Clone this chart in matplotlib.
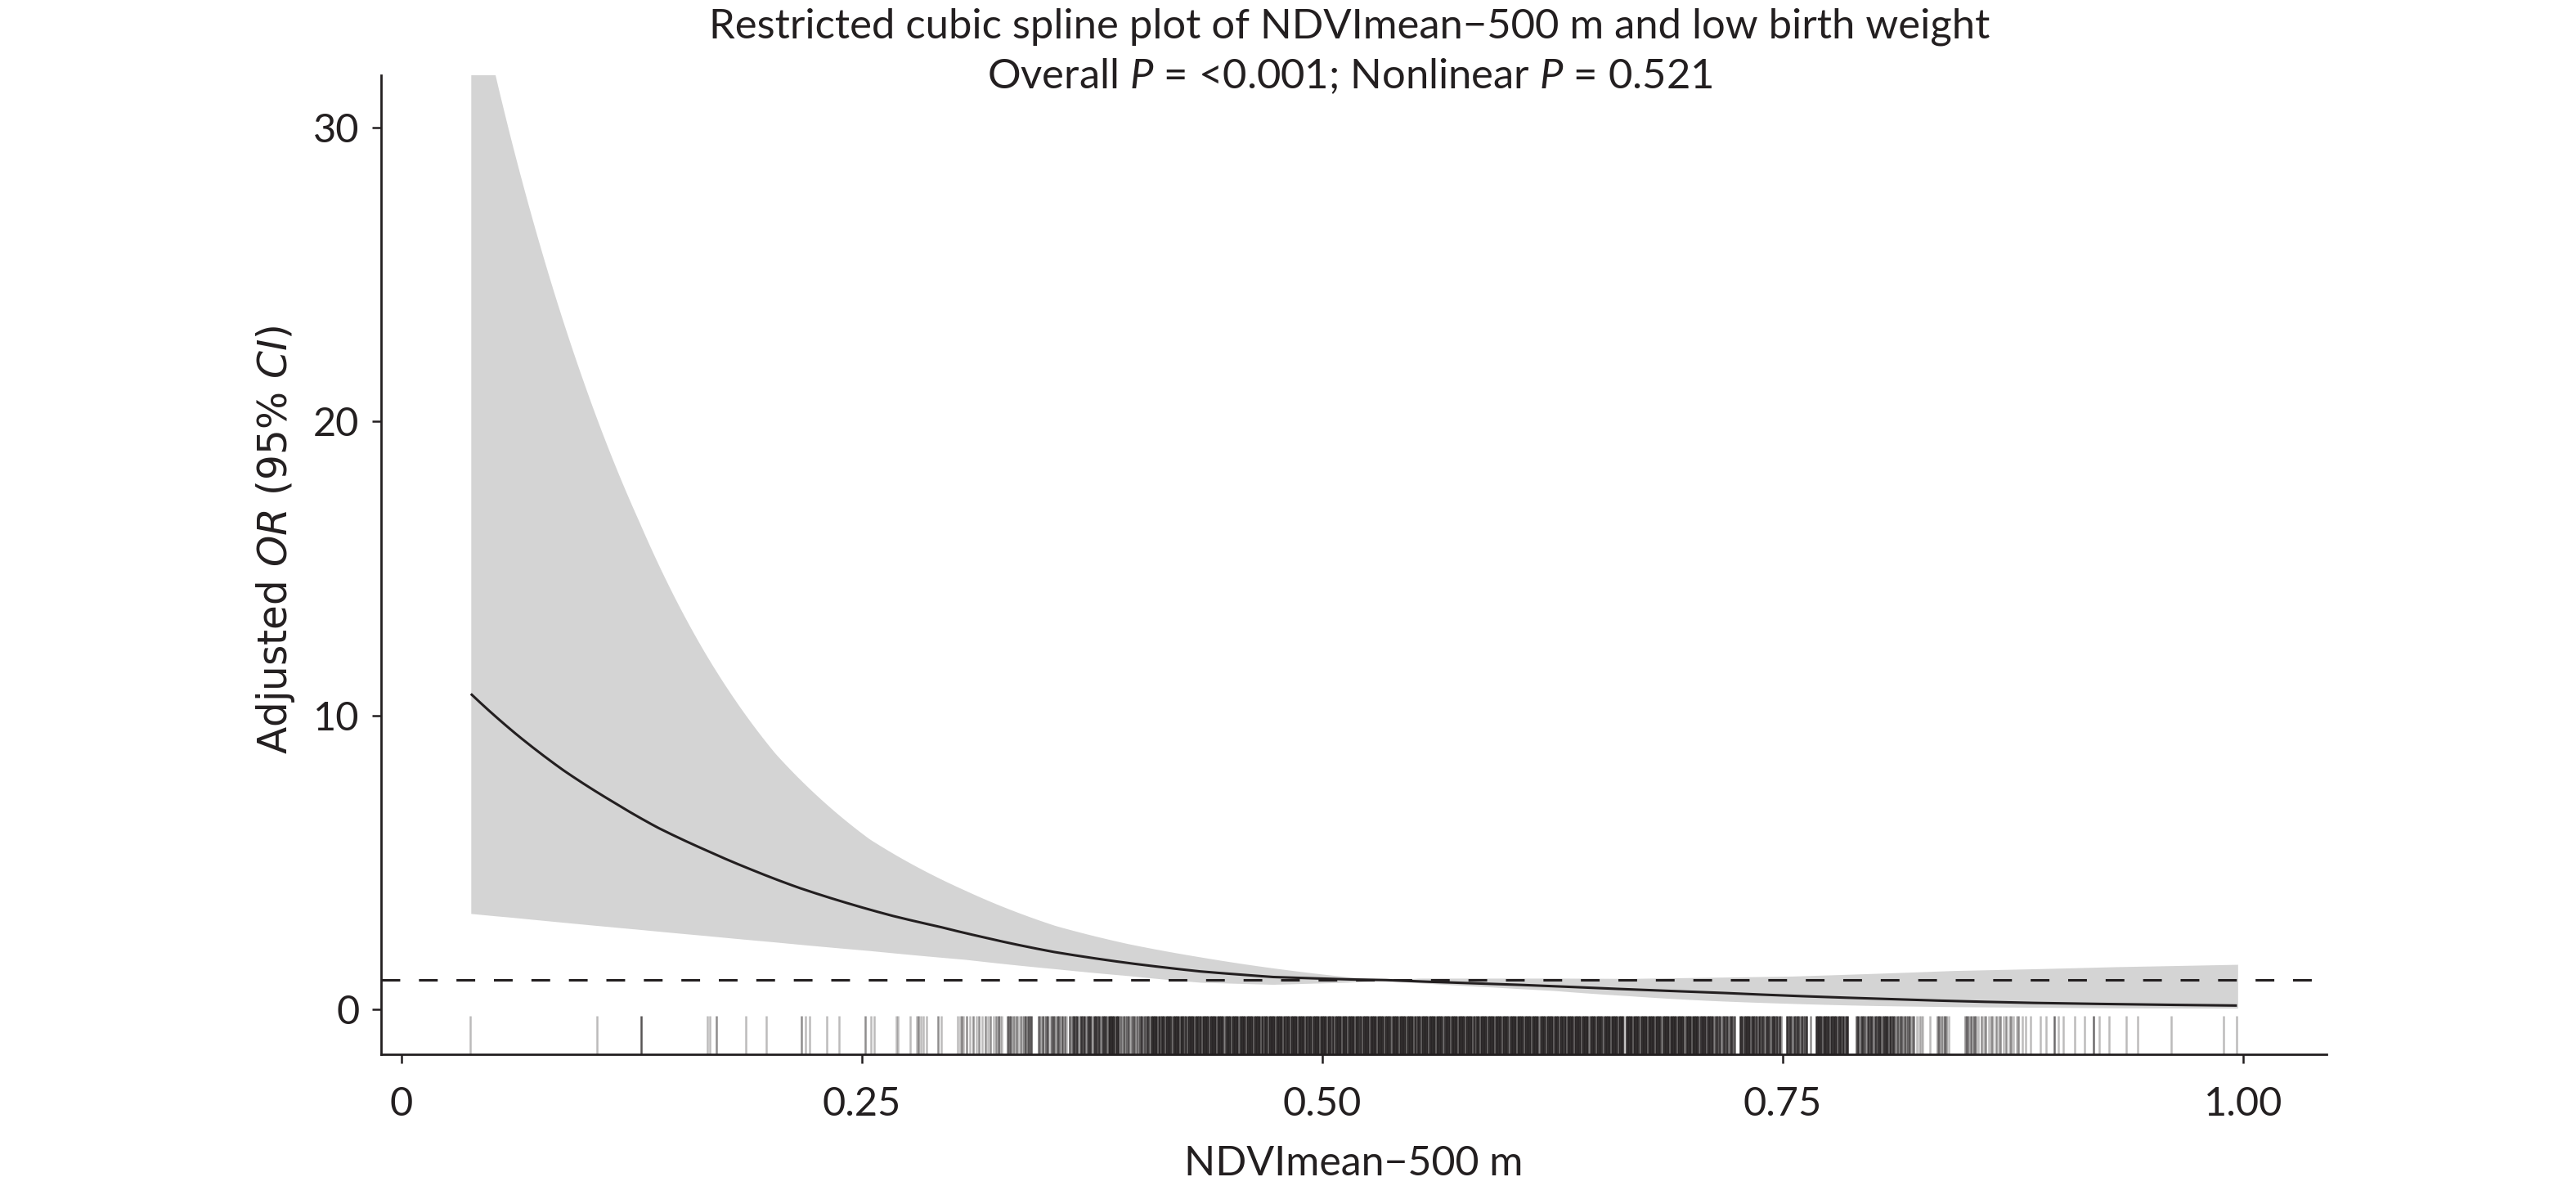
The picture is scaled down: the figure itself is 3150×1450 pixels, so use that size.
import numpy as np
import matplotlib
matplotlib.use("Agg")
import matplotlib.pyplot as plt

# ---------------- data ----------------
title_line1 = "Restricted cubic spline plot of NDVImean\u2212500 m and low birth weight"
title_line2 = r"Overall $P$ = <0.001; Nonlinear $P$ = 0.521"
x_label = "NDVImean\u2212500 m"
y_label = r"Adjusted $\mathit{OR}$ (95% $\mathit{CI}$)"

x_ticks = [0, 0.25, 0.50, 0.75, 1.00]
x_tick_labels = ["0", "0.25", "0.50", "0.75", "1.00"]
y_ticks = [0, 10, 20, 30]
y_tick_labels = ["0", "10", "20", "30"]
ref_or = 1.0

# fitted odds ratio
or_x = [0.0377, 0.0627, 0.0882, 0.1137, 0.1392, 0.1647, 0.1901, 0.2156, 0.2412,
        0.2667, 0.2921, 0.3148, 0.3545, 0.3941, 0.4338, 0.4734, 0.5131, 0.5329,
        0.5527, 0.5924, 0.6257, 0.7104, 0.7982, 0.8860, 0.9966]
or_y = [10.73, 9.34, 8.12, 7.10, 6.18, 5.43, 4.75, 4.14, 3.63,
        3.18, 2.81, 2.47, 1.95, 1.58, 1.29, 1.10, 1.02, 1.00,
        0.95, 0.87, 0.79, 0.58, 0.37, 0.22, 0.13]

# 95% confidence band
ci_x = [0.0377, 0.051, 0.060, 0.078, 0.098, 0.129, 0.165, 0.203, 0.254, 0.306,
        0.355, 0.394, 0.434, 0.473, 0.513, 0.533, 0.553, 0.592, 0.626, 0.667,
        0.711, 0.755, 0.799, 0.843, 0.887, 0.931, 0.997]
ci_upper = [36.0, 31.75, 29.45, 25.37, 21.49, 16.59, 12.10, 8.70, 5.80, 4.05,
            2.85, 2.24, 1.78, 1.41, 1.11, 1.00, 1.06, 1.06, 1.06, 1.05,
            1.09, 1.13, 1.22, 1.32, 1.38, 1.45, 1.53]
ci_lower = [3.26, 3.18, 3.13, 3.02, 2.90, 2.72, 2.51, 2.29, 2.00, 1.70,
            1.38, 1.15, 0.92, 0.85, 0.92, 0.99, 0.90, 0.76, 0.64, 0.46,
            0.30, 0.20, 0.13, 0.09, 0.07, 0.05, 0.04]

# rug: sparse low tail (value, number of overlapping observations)
rug_left = [0.0375, 0.1062, 0.1301, 0.1663, 0.1674, 0.1710, 0.1869, 0.1983, 0.2171, 0.2193,
            0.2215, 0.2310, 0.2376, 0.2518, 0.2547, 0.2569, 0.2687, 0.2695, 0.2762, 0.2796,
            0.2806, 0.2818, 0.2832, 0.2853, 0.2915, 0.2929, 0.3020, 0.3031, 0.3042, 0.3053,
            0.3069, 0.3086, 0.3104, 0.3120, 0.3135, 0.3153, 0.3171, 0.3186, 0.3197, 0.3215,
            0.3230]
rug_left_n = [1, 1, 4, 1, 1, 2, 1, 1, 2, 1,
              1, 1, 1, 2, 1, 1, 1, 1, 1, 1,
              2, 1, 1, 1, 2, 1, 1, 1, 2, 1,
              2, 1, 2, 1, 2, 1, 2, 1, 2, 1,
              2]

# rug: dense band A (thousandths)
rug_a = [324, 325, 326, 329, 330, 331, 332, 333, 334, 335,
         336, 337, 338, 339, 340, 341, 342, 346, 347, 348,
         349, 350, 351, 352, 353, 354, 355, 356, 357, 358,
         359, 360, 361, 363, 364, 365, 366, 367, 368, 369,
         370, 371, 372, 373, 374, 375, 376, 377, 378, 379,
         380, 381, 382, 383, 384, 385, 386, 387, 388, 389,
         390, 391, 392, 393, 394, 395, 396, 397, 398, 399,
         400, 401, 402, 403, 404, 405, 406]
rug_a_n = [3, 1, 1, 3, 3, 3, 2, 1, 2, 1,
           2, 1, 2, 4, 4, 3, 4, 3, 2, 4,
           1, 3, 4, 1, 3, 4, 2, 4, 3, 1,
           4, 3, 1, 4, 3, 7, 4, 7, 2, 7,
           4, 7, 3, 7, 7, 2, 7, 7, 4, 7,
           3, 7, 7, 4, 10, 10, 10, 10, 10, 10,
           2, 3, 4, 2, 3, 4, 2, 3, 4, 3,
           2, 4, 7, 4, 3, 7, 4]

# rug: solid core band B (thousandths)
rug_b = [407, 408, 409, 410, 411, 412, 413, 414, 415, 416,
         417, 418, 419, 420, 421, 422, 423, 424, 425, 426,
         427, 428, 429, 430, 431, 432, 433, 434, 435, 436,
         437, 438, 439, 440, 441, 442, 443, 444, 445, 446,
         447, 448, 449, 450, 451, 452, 453, 454, 455, 456,
         457, 458, 459, 460, 461, 462, 463, 464, 465, 466,
         467, 468, 469, 470, 471, 472, 473, 474, 475, 476,
         477, 478, 479, 480, 481, 482, 483, 484, 485, 486,
         487, 488, 489, 490, 491, 492, 493, 494, 495, 496,
         497, 498, 499, 500, 501, 502, 503, 504, 505, 506,
         507, 508, 509, 510, 511, 512, 513, 514, 515, 516,
         517, 518, 519, 520, 521, 522, 523, 524, 525, 526,
         527, 528, 529, 530, 531, 532, 533, 534, 535, 536,
         537, 538, 539, 540, 541, 542, 543, 544, 545, 546,
         547, 548, 549, 550, 551, 552, 553, 554, 555, 556,
         557, 558, 559, 560, 561, 562, 563, 564, 565, 566,
         567, 568, 569, 570, 571, 572, 573, 574, 575, 576,
         577, 578, 579, 580, 581, 582, 583, 584, 585, 586,
         587, 588, 589, 590, 591, 592, 593, 594, 595, 596,
         597, 598, 599, 600, 601, 602, 603, 604, 605, 606,
         607, 608, 609, 610, 611, 612, 613, 614, 615, 616,
         617, 618, 619, 620, 621, 622, 623, 624, 625, 626,
         627, 628, 629, 630, 631, 632, 633, 634, 635, 636,
         637, 638, 639, 640, 641, 642, 643, 644, 645, 646,
         647, 648, 649, 650, 651, 652, 653, 654, 655, 656,
         657, 658, 659, 660, 661, 662, 663, 664, 665, 666,
         667, 668, 669, 670, 671, 672, 673, 674, 675, 676,
         677, 678, 679, 680, 681, 682, 683, 684, 685, 686,
         687, 688, 689, 690, 691, 692, 693, 694, 695, 696,
         697, 698, 699, 700, 701, 702, 703, 704, 705]
rug_b_n = [10, 10, 10, 10, 10, 4, 10, 10, 10, 10,
           10, 6, 10, 10, 10, 10, 10, 10, 4, 10,
           10, 10, 10, 10, 10, 10, 6, 10, 10, 10,
           10, 10, 10, 10, 10, 10, 10, 10, 10, 10,
           4, 10, 10, 10, 10, 10, 10, 10, 6, 10,
           10, 10, 10, 10, 10, 10, 10, 10, 10, 10,
           10, 4, 10, 10, 10, 10, 10, 10, 10, 10,
           10, 10, 10, 6, 10, 10, 10, 10, 10, 10,
           10, 10, 10, 10, 10, 6, 10, 10, 10, 10,
           10, 10, 10, 10, 10, 10, 10, 10, 4, 10,
           10, 10, 10, 10, 10, 10, 10, 10, 10, 10,
           10, 10, 10, 6, 10, 10, 10, 10, 10, 10,
           10, 10, 10, 10, 10, 10, 10, 10, 10, 10,
           6, 10, 10, 10, 10, 10, 10, 10, 10, 10,
           10, 10, 10, 10, 4, 10, 10, 10, 10, 10,
           10, 10, 10, 10, 10, 10, 10, 10, 10, 6,
           10, 10, 10, 10, 10, 10, 10, 10, 10, 10,
           10, 10, 10, 10, 10, 10, 4, 10, 10, 10,
           10, 10, 10, 10, 10, 10, 10, 10, 10, 10,
           10, 10, 10, 10, 6, 10, 10, 10, 10, 10,
           10, 10, 10, 10, 10, 10, 10, 10, 10, 10,
           10, 4, 10, 10, 10, 10, 10, 10, 10, 10,
           10, 10, 10, 10, 6, 10, 10, 10, 10, 10,
           10, 10, 10, 10, 10, 10, 10, 10, 4, 10,
           10, 10, 10, 10, 10, 6, 10, 10, 10, 10,
           10, 10, 10, 10, 10, 10, 10, 1, 10, 10,
           10, 10, 10, 10, 10, 6, 10, 10, 10, 10,
           10, 10, 10, 10, 10, 10, 10, 4, 10, 10,
           10, 10, 10, 10, 10, 10, 10, 10, 10, 10,
           4, 10, 10, 10, 10, 10, 10, 10, 6]

# rug: thinning upper band C (thousandths)
rug_c = [706, 707, 708, 709, 710, 711, 712, 713, 714, 715,
         716, 717, 718, 719, 720, 721, 722, 723, 724, 727,
         728, 729, 730, 731, 732, 733, 734, 735, 736, 737,
         738, 739, 740, 741, 742, 743, 744, 745, 746, 747,
         748, 749, 752, 753, 754, 755, 756, 757, 758, 759,
         760, 761, 762, 763, 765, 768, 769, 770, 771, 772,
         773, 774, 775, 776, 777, 778, 779, 780, 781, 782,
         783, 784, 785, 790, 791, 792, 793, 794, 795, 796,
         797, 798, 799, 800, 801, 802, 803, 804, 805, 806,
         807, 808, 809, 810, 811, 812, 813, 814, 815, 816,
         817, 818, 819, 820, 821, 823, 824, 825, 826, 830,
         834, 835, 836, 837, 838, 839, 840, 849, 850, 851,
         852, 853, 854, 855, 856, 858, 859, 860, 862, 863,
         864, 866, 867, 868, 870, 871, 873, 874, 875, 877,
         878, 880, 882]
rug_c_n = [9, 9, 9, 9, 9, 7, 9, 4, 7, 4,
           7, 3, 7, 4, 7, 4, 7, 3, 4, 9,
           9, 7, 9, 9, 9, 7, 9, 4, 7, 9,
           4, 7, 4, 9, 7, 4, 7, 9, 4, 7,
           9, 2, 7, 4, 7, 3, 7, 4, 7, 4,
           7, 3, 4, 7, 2, 9, 9, 9, 7, 9,
           9, 7, 9, 9, 7, 9, 9, 7, 9, 4,
           9, 7, 9, 4, 7, 3, 7, 4, 3, 7,
           4, 7, 3, 7, 4, 7, 9, 4, 7, 9,
           7, 9, 4, 7, 3, 4, 2, 4, 3, 4,
           2, 3, 4, 2, 3, 1, 1, 1, 1, 1,
           2, 3, 2, 1, 3, 2, 1, 2, 3, 2,
           3, 1, 3, 2, 1, 2, 1, 2, 1, 2,
           1, 2, 1, 2, 1, 2, 1, 2, 1, 1,
           2, 1, 1]

# rug: sparse high tail
rug_right = [0.8847, 0.8900, 0.8928, 0.8972, 0.8997, 0.9023, 0.9086, 0.9137,
             0.9188, 0.9219, 0.9272, 0.9367, 0.9426, 0.9611, 0.9894, 0.9966]
rug_right_n = [1, 1, 1, 3, 1, 1, 1, 1, 3, 1, 1, 1, 1, 1, 1, 1]

assert len(rug_left) == len(rug_left_n)
assert len(rug_a) == len(rug_a_n)
assert len(rug_b) == len(rug_b_n)
assert len(rug_c) == len(rug_c_n)
assert len(rug_right) == len(rug_right_n)

# ---------------- styling ----------------
plt.rcParams['font.family'] = ['Lato', 'DejaVu Sans']
plt.rcParams['mathtext.fontset'] = 'custom'
plt.rcParams['mathtext.rm'] = 'Lato'
plt.rcParams['mathtext.it'] = 'Lato:italic'
INK = (0.137, 0.122, 0.125)
BAND = '#d4d4d4'
FS = 35


def smooth_log(xs, ys, n=800):
    """Draw through the read points, joining them in log-odds space."""
    xs = np.asarray(xs, float)
    ly = np.log(np.asarray(ys, float))
    xd = np.linspace(xs[0], xs[-1], n)
    return xd, np.exp(np.interp(xd, xs, ly))


fig = plt.figure(figsize=(31.5, 14.5), dpi=100)
ax = fig.add_axes([0.1479, 0.111, 0.9032 - 0.1479, 0.9366 - 0.111])

bx, bu = smooth_log(ci_x, ci_upper)
_, bl = smooth_log(ci_x, ci_lower)
ax.fill_between(bx, bl, bu, color=BAND, linewidth=0, zorder=1)
lx, ly = smooth_log(or_x, or_y)
ax.plot(lx, ly, color=INK, linewidth=2.2, zorder=3, solid_capstyle='butt')
ax.axhline(ref_or, color=INK, linewidth=2.2, linestyle=(0, (7.5, 7.5)), zorder=2)

# rug
rx = (list(rug_left) + [m / 1000.0 for m in rug_a] + [m / 1000.0 for m in rug_b]
      + [m / 1000.0 for m in rug_c] + list(rug_right))
rn = list(rug_left_n) + list(rug_a_n) + list(rug_b_n) + list(rug_c_n) + list(rug_right_n)
cols = [(INK[0], INK[1], INK[2], 1 - (1 - 0.3) ** n) for n in rn]
ax.vlines(rx, 0.0, 0.039, colors=cols, linewidth=1.8,
          transform=ax.get_xaxis_transform(), zorder=2)

ax.set_xlim(-0.0111, 1.0453)
ax.set_ylim(-1.53, 31.77)

ax.set_xticks(x_ticks)
ax.set_xticklabels(x_tick_labels)
ax.set_yticks(y_ticks)
ax.set_yticklabels(y_tick_labels)

for s in ['top', 'right']:
    ax.spines[s].set_visible(False)
for s in ['left', 'bottom']:
    ax.spines[s].set_linewidth(2.0)
    ax.spines[s].set_color(INK)

ax.tick_params(axis='both', length=8, width=1.8, color=INK, labelsize=FS,
               labelcolor=INK)
ax.tick_params(axis='x', pad=20)
ax.tick_params(axis='y', pad=11)

ax.set_xlabel(x_label, fontsize=36, color=INK, labelpad=20)

fig.text(0.1070, 0.545, y_label, rotation=90, ha='center', va='center',
         fontsize=35, color=INK, family='DejaVu Sans',
         math_fontfamily='dejavusans')

fig.text(0.524, 0.9676, title_line1, ha='center', va='baseline', fontsize=36.5,
         color=INK)
fig.text(0.524, 0.9255, title_line2, ha='center', va='baseline', fontsize=36.5,
         color=INK, math_fontfamily='custom')

fig.savefig('out.png', dpi=100, facecolor='white')
